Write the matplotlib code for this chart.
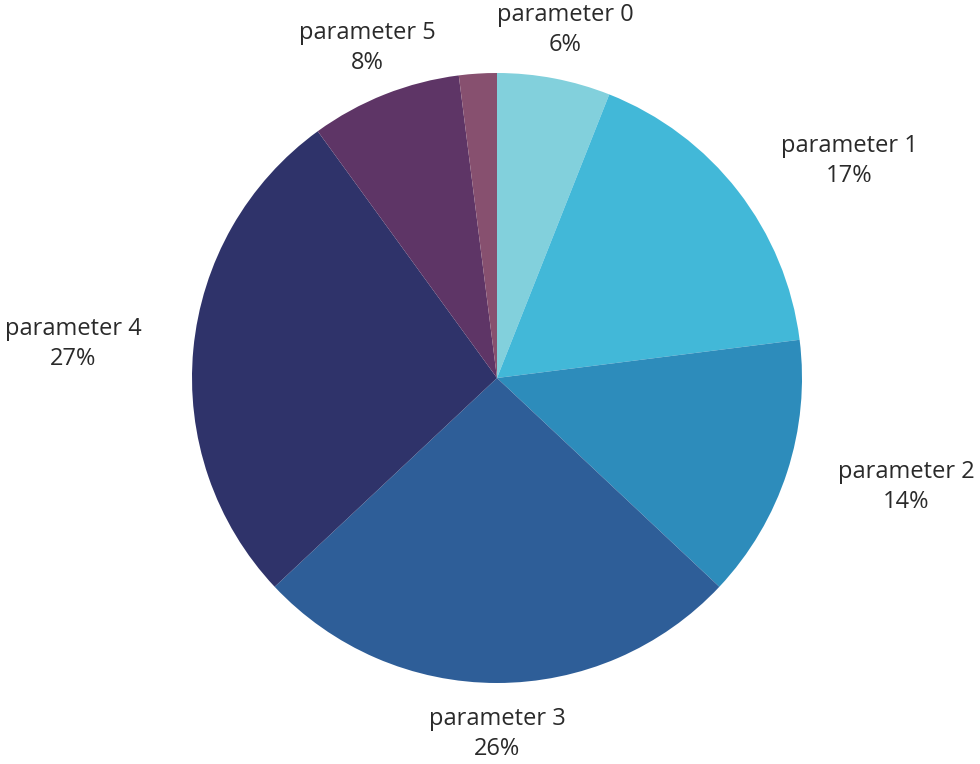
import matplotlib
matplotlib.use("Agg")
import matplotlib.pyplot as plt

categories = ["parameter 0", "parameter 1", "parameter 2", "parameter 3", "parameter 4", "parameter 5", ""]
values = [6, 17, 14, 26, 27, 8, 2]
pct_labels = ["6%", "17%", "14%", "26%", "27%", "8%", ""]
colors = ["#82D0DC", "#42B8D8", "#2D8CBB", "#2E5E98", "#2F336A", "#5E3566", "#87506F"]
label_pos = [(0.223, 1.141), (1.154, 0.711), (1.341, -0.357), (0.0, -1.167),
             (-1.390, 0.111), (-0.426, 1.082), None]

W, H = 980, 764
cx, cy, R = 497, 378, 305
fig = plt.figure(figsize=(W / 100, H / 100), dpi=100)
ax = fig.add_axes([0, 0, 1, 1])
ax.pie(values, colors=colors, startangle=90, counterclock=False, radius=1,
       wedgeprops=dict(linewidth=0))
ax.set_xlim(-cx / R, (W - cx) / R)
ax.set_ylim(-(H - cy) / R, cy / R)
ax.set_aspect("equal")
ax.axis("off")

for cat, pct, pos in zip(categories, pct_labels, label_pos):
    if pos is None:
        continue
    ax.text(pos[0], pos[1], f"{cat}\n{pct}", ha="center", va="center",
            fontsize=17, family=["Open Sans", "DejaVu Sans"], color="#2a2a2a",
            linespacing=1.3)

fig.savefig("out.png", dpi=100)
